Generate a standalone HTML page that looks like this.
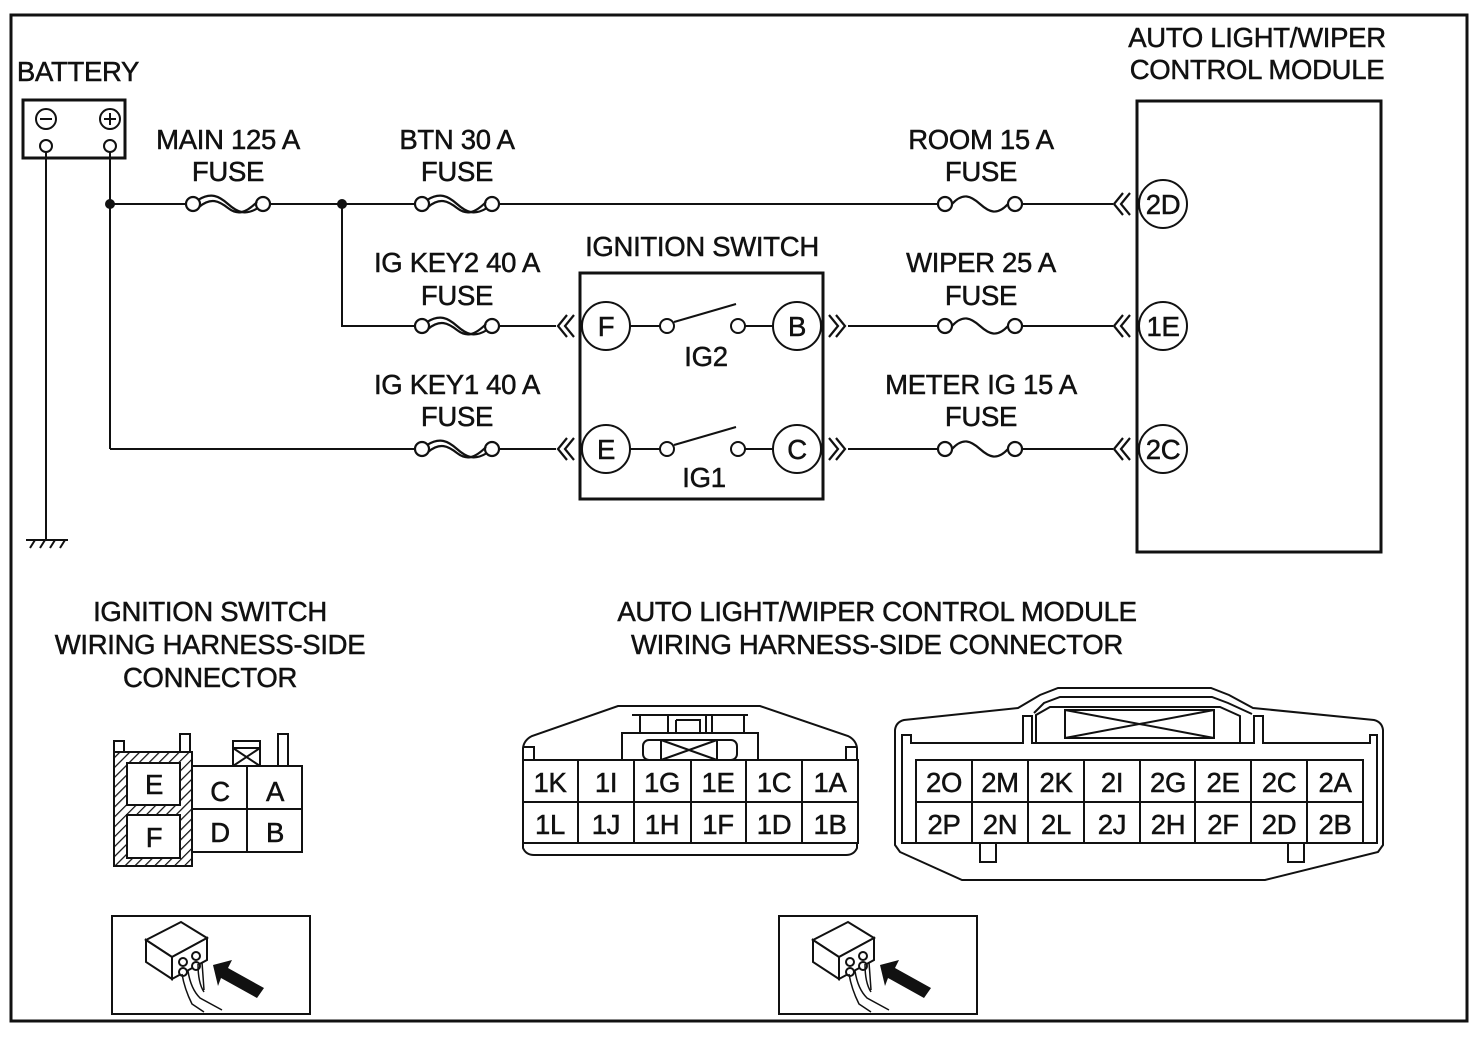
<!DOCTYPE html>
<html><head><meta charset="utf-8"><style>
html,body{margin:0;padding:0;background:#fff}
svg{display:block}
text{font-family:"Liberation Sans",sans-serif;font-size:27.5px;fill:#111;stroke:#111;stroke-width:0.5;text-anchor:middle;letter-spacing:-0.3px}
</style></head><body>
<svg width="1478" height="1038" viewBox="0 0 1478 1038" xmlns="http://www.w3.org/2000/svg">
<defs>
<g id="fuse" fill="none" stroke="#111" stroke-width="2.2">
<circle cx="0" cy="0" r="7"/><circle cx="70" cy="0" r="7"/>
<path d="M7,0 C18,-12 26,-8 35,0 C44,8 52,12 63,0"/>
</g>
<g id="fuse2" fill="none" stroke="#111" stroke-width="2.2">
<circle cx="0" cy="0" r="7"/><circle cx="70" cy="0" r="7"/>
<path d="M5,-4 C18,-12 26,-8 35,0 C44,8 52,12 65,4"/>
<path d="M6,3 C18,-7 26,-3 35,4 C44,11 52,10 64,-2"/>
</g>
<g id="chl" fill="none" stroke="#111" stroke-width="2.2"><path d="M9,-11 L0,0 L9,11 M16,-11 L7,0 L16,11"/></g>
<g id="chr" fill="none" stroke="#111" stroke-width="2.2"><path d="M0,-11 L9,0 L0,11 M7,-11 L16,0 L7,11"/></g>
<pattern id="hatch" width="7" height="7" patternUnits="userSpaceOnUse" patternTransform="rotate(45)"><rect width="7" height="7" fill="#fff"/><line x1="0" y1="0" x2="0" y2="7" stroke="#111" stroke-width="2.5"/></pattern>
<g id="icon">
<rect x="0" y="0" width="198" height="98" fill="#fff" stroke="#111" stroke-width="2"/>
<g fill="#fff" stroke="#111" stroke-width="2">
<path d="M34,24 L69,6 L95,22 L60,41 Z"/>
<path d="M34,24 L34,46 L60,63 L60,41 Z"/>
<path d="M60,41 L95,22 L95,44 L60,63 Z"/>
<circle cx="71" cy="46" r="4"/><circle cx="84" cy="40" r="4"/><circle cx="71" cy="56" r="4"/><circle cx="84" cy="50" r="4"/>
</g>
<path d="M70,58 C72,70 76,80 80,88 L92,96 M76,55 C78,68 82,76 88,82 L110,94 M86,48 C86,62 88,70 92,76 M90,46 L92,74" fill="none" stroke="#111" stroke-width="1.5"/>
<path d="M101,49 L120,44 L116,52 L152,72 L145,82 L109,62 L106,70 Z" fill="#111"/>
</g>
</defs>

<rect x="11" y="15" width="1456" height="1006" fill="none" stroke="#111" stroke-width="3"/>

<text x="78" y="81">BATTERY</text>
<rect x="23" y="100" width="102" height="58" fill="none" stroke="#111" stroke-width="3"/>
<g fill="none" stroke="#111" stroke-width="2">
<circle cx="46" cy="119" r="10"/><line x1="40" y1="119" x2="52" y2="119"/>
<circle cx="110" cy="119" r="10"/><line x1="104" y1="119" x2="116" y2="119"/><line x1="110" y1="113" x2="110" y2="125"/>
<circle cx="46" cy="146" r="6"/><circle cx="110" cy="146" r="6"/>
<line x1="46" y1="152" x2="46" y2="540"/>
<line x1="110" y1="152" x2="110" y2="449"/>
<line x1="26" y1="540" x2="68" y2="540"/>
<path d="M30,548 L35,540 M40,548 L45,540 M50,548 L55,540 M60,548 L65,540"/>
</g>

<g stroke="#111" stroke-width="2" fill="none">
<line x1="110" y1="204" x2="186" y2="204"/>
<line x1="270" y1="204" x2="415" y2="204"/>
<line x1="500" y1="204" x2="938" y2="204"/>
<line x1="1023" y1="204" x2="1113" y2="204"/>
<path d="M342,204 L342,326 L415,326"/>
<line x1="500" y1="326" x2="556" y2="326"/>
<line x1="110" y1="449" x2="415" y2="449"/>
<line x1="500" y1="449" x2="556" y2="449"/>
<line x1="848" y1="326" x2="938" y2="326"/>
<line x1="1023" y1="326" x2="1113" y2="326"/>
<line x1="848" y1="449" x2="938" y2="449"/>
<line x1="1023" y1="449" x2="1113" y2="449"/>
</g>
<circle cx="110" cy="204" r="5" fill="#111"/>
<circle cx="342" cy="204" r="5" fill="#111"/>
<use href="#fuse2" x="193" y="204"/>
<use href="#fuse2" x="422" y="204"/>
<use href="#fuse2" x="422" y="326"/>
<use href="#fuse2" x="422" y="449"/>
<use href="#fuse" x="945" y="204"/>
<use href="#fuse" x="945" y="326"/>
<use href="#fuse" x="945" y="449"/>

<text x="228" y="149">MAIN 125 A</text><text x="228" y="181">FUSE</text>
<text x="457" y="149">BTN 30 A</text><text x="457" y="181">FUSE</text>
<text x="981" y="149">ROOM 15 A</text><text x="981" y="181">FUSE</text>
<text x="457" y="272">IG KEY2 40 A</text><text x="457" y="305">FUSE</text>
<text x="981" y="272">WIPER 25 A</text><text x="981" y="305">FUSE</text>
<text x="457" y="394">IG KEY1 40 A</text><text x="457" y="426">FUSE</text>
<text x="981" y="394">METER IG 15 A</text><text x="981" y="426">FUSE</text>

<text x="702" y="256">IGNITION SWITCH</text>
<rect x="580" y="273" width="243" height="226" fill="none" stroke="#111" stroke-width="3"/>
<use href="#chl" x="558" y="326"/><use href="#chl" x="558" y="449"/>
<use href="#chr" x="829" y="326"/><use href="#chr" x="829" y="449"/>
<g fill="#fff" stroke="#111" stroke-width="2">
<circle cx="606" cy="326" r="24"/><circle cx="797" cy="326" r="24"/>
<circle cx="606" cy="449" r="24"/><circle cx="797" cy="449" r="24"/>
<line x1="630" y1="326" x2="660" y2="326"/><line x1="745" y1="326" x2="773" y2="326"/>
<line x1="630" y1="449" x2="660" y2="449"/><line x1="745" y1="449" x2="773" y2="449"/>
<circle cx="667" cy="326" r="7"/><circle cx="738" cy="326" r="7"/>
<circle cx="667" cy="449" r="7"/><circle cx="738" cy="449" r="7"/>
<line x1="674" y1="322" x2="736" y2="304"/>
<line x1="674" y1="445" x2="736" y2="427"/>
</g>
<text x="606" y="336">F</text><text x="797" y="336">B</text>
<text x="606" y="459">E</text><text x="797" y="459">C</text>
<text x="706" y="366">IG2</text><text x="704" y="487">IG1</text>

<text x="1257" y="47">AUTO LIGHT/WIPER</text>
<text x="1257" y="79">CONTROL MODULE</text>
<rect x="1137" y="101" width="244" height="451" fill="none" stroke="#111" stroke-width="3"/>
<use href="#chl" x="1114" y="204"/><use href="#chl" x="1114" y="326"/><use href="#chl" x="1114" y="449"/>
<g fill="#fff" stroke="#111" stroke-width="2">
<circle cx="1163" cy="204" r="24"/><circle cx="1163" cy="326" r="24"/><circle cx="1163" cy="449" r="24"/>
</g>
<text x="1163" y="214">2D</text><text x="1163" y="336">1E</text><text x="1163" y="459">2C</text>

<text x="210" y="621">IGNITION SWITCH</text>
<text x="210" y="654">WIRING HARNESS-SIDE</text>
<text x="210" y="687">CONNECTOR</text>
<text x="877" y="621">AUTO LIGHT/WIPER CONTROL MODULE</text>
<text x="877" y="654">WIRING HARNESS-SIDE CONNECTOR</text>

<g stroke="#111" stroke-width="2" fill="#fff">
<rect x="114" y="741" width="10" height="12"/>
<rect x="180" y="734" width="10" height="19"/>
<rect x="278" y="734" width="10" height="32"/>
<rect x="233" y="741" width="27" height="25"/>
<path d="M233,748 L260,748 M233,748 L260,766 M260,748 L233,766" fill="none"/>
<rect x="114" y="752" width="78" height="114" fill="url(#hatch)"/>
<rect x="127" y="763" width="53" height="42"/>
<rect x="127" y="815" width="53" height="43"/>
<rect x="192" y="766" width="110" height="86"/>
<line x1="247" y1="766" x2="247" y2="852"/><line x1="192" y1="809" x2="302" y2="809"/>
</g>
<text x="154" y="794">E</text><text x="154" y="847">F</text>
<text x="220" y="801">C</text><text x="275" y="801">A</text>
<text x="220" y="842">D</text><text x="275" y="842">B</text>

<g stroke="#111" stroke-width="2" fill="none">
<path d="M523,760 L523,748 Q524,740 532,736 L618,706 L760,706 L848,736 Q856,740 857,748 L857,760"/>
<path d="M523,843 L523,848 Q526,855 534,855 L846,855 Q854,855 857,848 L857,843"/>
<path d="M524,747 L534,747 L534,760 M856,747 L846,747 L846,760"/>
<rect x="622" y="733" width="136" height="27"/>
<rect x="643" y="740" width="94" height="20" rx="6"/>
<rect x="661" y="740" width="56" height="20"/>
<path d="M661,740 L717,760 M717,740 L661,760"/>
<path d="M632,715 L748,715 M640,715 L640,733 M668,715 L668,733 M706,715 L706,733 M712,715 L712,733 M744,715 L744,733 M676,720 L700,720 L700,733 M676,720 L676,733"/>
<rect x="523" y="760" width="335" height="83"/>
<line x1="523" y1="802" x2="858" y2="802"/>
<line x1="578" y1="760" x2="578" y2="843"/><line x1="634" y1="760" x2="634" y2="843"/>
<line x1="691" y1="760" x2="691" y2="843"/><line x1="746" y1="760" x2="746" y2="843"/>
<line x1="802" y1="760" x2="802" y2="843"/>
</g>
<g>
<text x="550" y="792">1K</text><text x="606" y="792">1I</text><text x="662" y="792">1G</text><text x="718" y="792">1E</text><text x="774" y="792">1C</text><text x="830" y="792">1A</text>
<text x="550" y="834">1L</text><text x="606" y="834">1J</text><text x="662" y="834">1H</text><text x="718" y="834">1F</text><text x="774" y="834">1D</text><text x="830" y="834">1B</text>
</g>

<g stroke="#111" stroke-width="2" fill="none">
<path d="M895,760 L895,730 Q896,722 904,720 L1018,708 L1040,695 L1058,688 L1211,688 L1229,695 L1253,708 L1374,720 Q1382,722 1383,730 L1383,845 L1378,852 L1265,880 L962,880 L900,852 L895,845 Z"/>
<path d="M902,760 L902,735 L911,735 L911,743 L1023,743 L1023,716 L1032,716 L1032,743 L1254,743 L1254,716 L1263,716 L1263,743 L1370,743 L1370,735 L1377,735 L1377,843 L1304,843 L1304,862 L1288,862 L1288,843 L996,843 L996,862 L980,862 L980,843 L902,843 Z"/>
<path d="M1034,713 L1044,703 L1060,697 L1212,697 L1228,703 L1252,714"/>
<path d="M1036,742 L1036,715 L1050,707 L1220,707 L1240,716 L1240,742"/>
<rect x="1065" y="710" width="149" height="28"/>
<path d="M1065,710 L1214,738 M1214,710 L1065,738"/>
<rect x="916" y="760" width="447" height="83"/>
<line x1="916" y1="802" x2="1363" y2="802"/>
<line x1="972" y1="760" x2="972" y2="843"/><line x1="1028" y1="760" x2="1028" y2="843"/>
<line x1="1084" y1="760" x2="1084" y2="843"/><line x1="1140" y1="760" x2="1140" y2="843"/>
<line x1="1195" y1="760" x2="1195" y2="843"/><line x1="1251" y1="760" x2="1251" y2="843"/>
<line x1="1307" y1="760" x2="1307" y2="843"/>
</g>
<g>
<text x="944" y="792">2O</text><text x="1000" y="792">2M</text><text x="1056" y="792">2K</text><text x="1112" y="792">2I</text><text x="1168" y="792">2G</text><text x="1223" y="792">2E</text><text x="1279" y="792">2C</text><text x="1335" y="792">2A</text>
<text x="944" y="834">2P</text><text x="1000" y="834">2N</text><text x="1056" y="834">2L</text><text x="1112" y="834">2J</text><text x="1168" y="834">2H</text><text x="1223" y="834">2F</text><text x="1279" y="834">2D</text><text x="1335" y="834">2B</text>
</g>

<use href="#icon" x="112" y="916"/>
<use href="#icon" x="779" y="916"/>
</svg>
</body></html>
